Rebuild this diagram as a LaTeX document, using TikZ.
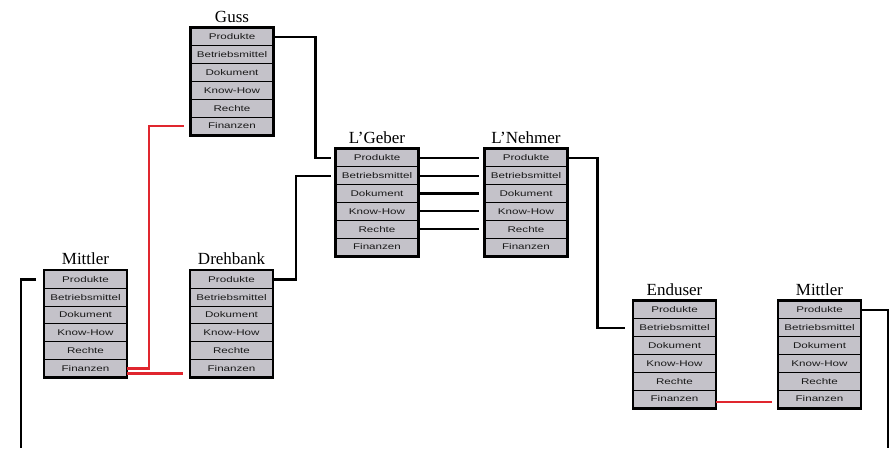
\documentclass[tikz,border=0pt]{standalone}
\usepackage{fontspec}
\setmainfont{Liberation Serif}
\newfontfamily\rowfont[FakeStretch=1.4]{Liberation Sans}
\definecolor{boxfill}{HTML}{C4C2C9}
\definecolor{linkred}{HTML}{E0262E}
\tikzset{
  rowbox/.style={draw=black, line width=0.9pt, fill=boxfill, minimum width=82pt,
    minimum height=17.8pt, inner sep=0pt, text=black!90,
    font=\rowfont\fontsize{8.3}{9}\selectfont},
  frame/.style={draw=black, line width=2.8pt},
  boxtitle/.style={anchor=base, inner sep=0pt, font=\fontsize{17}{18}\selectfont},
  conn/.style={draw=black, line width=2.3pt},
  redconn/.style={draw=linkred, line width=2.2pt},
}
\newcommand\mkbox[4]{%
  \foreach \t [count=\i] in {Produkte,Betriebsmittel,Dokument,Know-How,Rechte,Finanzen}{
    \node[rowbox] (#1-\i) at (#2+41, #3+\i*17.8-8.9) {\t};
  }
  \draw[frame] (#1-1.north west) rectangle (#1-6.south east);
  \node[boxtitle] (#1-t) at (#2+41, #3-6) {#4};
}
\begin{document}
\begin{tikzpicture}[x=1pt,y=-1pt]
\useasboundingbox (0,0) rectangle (890,448);
\mkbox{guss}{191}{28}{Guss}
\mkbox{dh}{190.5}{270.5}{Drehbank}
\mkbox{ml}{44.5}{270.5}{Mittler}
\mkbox{lg}{336}{149}{L’Geber}
\mkbox{ln}{485}{149}{L’Nehmer}
\mkbox{eu}{633.5}{301}{Enduser}
\mkbox{mr}{778.5}{301}{Mittler}
\coordinate (bl) at (21,448);
\coordinate (br) at (888,448);
% black connectors
\draw[conn, shorten >=5pt] (guss-1.east) -- ++(42,0) |- (lg-1.west);
\draw[conn, shorten >=5pt] (dh-1.east) -- ++(23,0) |- (lg-2.west);
\foreach \i in {1,...,5}{
  \draw[conn, shorten >=6pt] (lg-\i.east) -- (ln-\i.west);
}
\draw[conn, shorten >=8pt] (ln-1.east) -- ++(30,0) |- (eu-2.west);
\draw[conn] (mr-1.east) -| (br);
\draw[conn, shorten <=8pt] (ml-1.west) -| (bl);
% red connectors
\draw[redconn, shorten >=7pt] (ml-6.east) -- ++(22,0) |- (guss-6.west);
\draw[redconn, shorten >=7pt] ([yshift=-5pt]ml-6.east) -- ([yshift=-5pt]dh-6.west);
\draw[redconn, shorten >=6pt] ([yshift=-3pt]eu-6.east) -- ([yshift=-3pt]mr-6.west);
\end{tikzpicture}
\end{document}
